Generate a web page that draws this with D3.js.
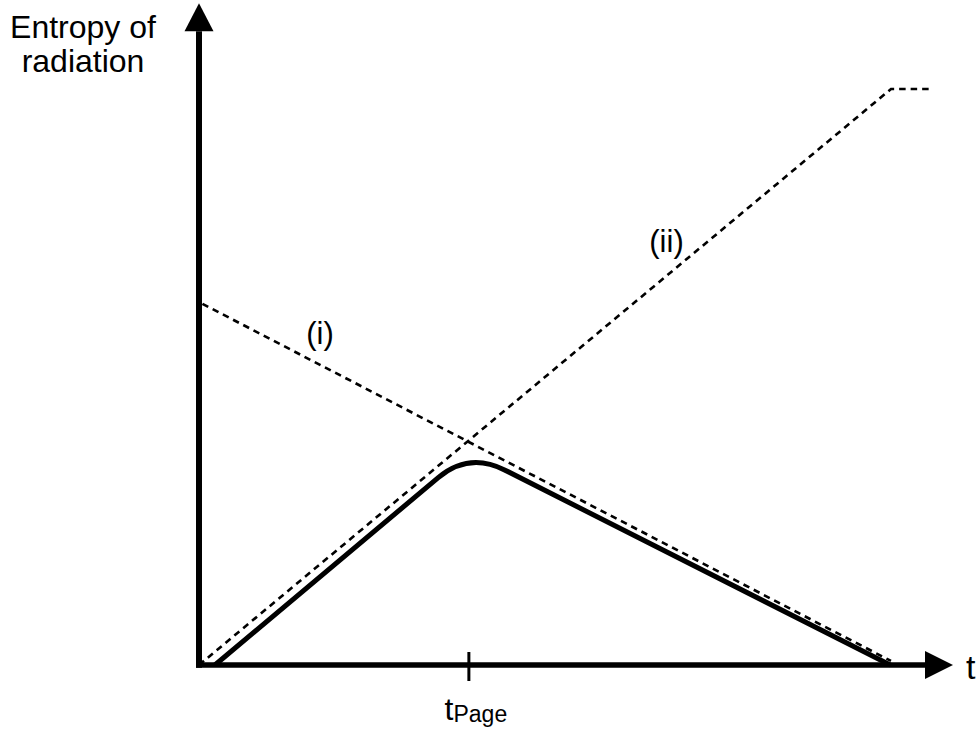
<!DOCTYPE html>
<html>
<head>
<meta charset="utf-8">
<script src="https://cdn.jsdelivr.net/npm/d3@7"></script>
<style>
  html, body { margin: 0; padding: 0; background: #fff; }
  svg text { font-family: "Liberation Sans", Arial, Helvetica, sans-serif; fill: #000; }
</style>
</head>
<body>
<svg id="chart" width="978" height="733"></svg>
<script>
// Time in units of the evaporation time, entropy in units of the final radiation entropy.
const tPage = 0.39;

// (i) coarse-grained entropy of the black hole, falling to zero at evaporation
const curveI = [ { t: 0.005, s: 0.627 }, { t: 1.0, s: 0.007 } ];
// (ii) Hawking's thermal radiation entropy, rising then flat after evaporation
const curveII = [ { t: 0, s: 0 }, { t: 1.0, s: 1.0 }, { t: 1.059, s: 1.0 } ];
// Page curve: straight rise, rounded turnover at t_Page, straight fall
const pageCurve = [ { t: 0.023, s: 0 }, { t: 0.39, s: 0.37 }, { t: 0.999, s: 0 } ];

const axisLimits = { t: 1.0896, s: 1.149 };
const labels = { y: ["Entropy of", "radiation"], x: "t", tick: "t", tickSub: "Page", i: "(i)", ii: "(ii)" };

const svg = d3.select("#chart");

const x = d3.scaleLinear().domain([0, 1]).range([199, 891]);
const y = d3.scaleLinear().domain([0, 1]).range([665, 89]);

// Axes
const arrowLen = 28, arrowHalf = 14;
const x0 = x(0), y0 = y(0);
const xTip = x(axisLimits.t), yTip = y(axisLimits.s);

svg.append("line")
  .attr("x1", x0).attr("y1", y0 + 2.8)
  .attr("x2", x0).attr("y2", yTip + arrowLen)
  .attr("stroke", "#000").attr("stroke-width", 6);
svg.append("line")
  .attr("x1", x0 - 3).attr("y1", y0)
  .attr("x2", xTip - arrowLen).attr("y2", y0)
  .attr("stroke", "#000").attr("stroke-width", 5.5);

svg.append("path")
  .attr("d", `M${x0},${yTip} L${x0 + arrowHalf + 0.5},${yTip + arrowLen} L${x0 - arrowHalf - 0.5},${yTip + arrowLen} Z`)
  .attr("fill", "#000");
svg.append("path")
  .attr("d", `M${xTip},${y0} L${xTip - arrowLen},${y0 - arrowHalf} L${xTip - arrowLen},${y0 + arrowHalf} Z`)
  .attr("fill", "#000");

// t_Page tick
svg.append("line")
  .attr("x1", x(tPage)).attr("x2", x(tPage))
  .attr("y1", y0 - 13).attr("y2", y0 + 16)
  .attr("stroke", "#000").attr("stroke-width", 3);

// Dashed reference curves
const line = d3.line().x(d => x(d.t)).y(d => y(d.s));
[curveI, curveII].forEach(c => {
  svg.append("path")
    .attr("d", line(c))
    .attr("fill", "none")
    .attr("stroke", "#000")
    .attr("stroke-width", 2.6)
    .attr("stroke-dasharray", "6.5,5");
});

// Page curve with a rounded corner at the turnover
(function drawPage() {
  const [a, c, b] = pageCurve.map(d => [x(d.t), y(d.s)]);
  const r = 40;
  const unit = (p, q) => { const dx = q[0] - p[0], dy = q[1] - p[1], L = Math.hypot(dx, dy); return [dx / L, dy / L]; };
  const u1 = unit(c, a), u2 = unit(c, b);
  const p = d3.path();
  p.moveTo(a[0], a[1]);
  p.lineTo(c[0] + u1[0] * r, c[1] + u1[1] * r);
  p.quadraticCurveTo(c[0], c[1], c[0] + u2[0] * r, c[1] + u2[1] * r);
  p.lineTo(b[0], b[1]);
  svg.append("path")
    .attr("d", p.toString())
    .attr("fill", "none")
    .attr("stroke", "#000")
    .attr("stroke-width", 5)
    .attr("stroke-linejoin", "round");
})();

// Text
svg.append("text")
  .attr("text-anchor", "middle")
  .attr("font-size", 32)
  .selectAll("tspan").data(labels.y).join("tspan")
  .attr("x", 83).attr("y", (d, i) => 38 + i * 34)
  .text(d => d);

svg.append("text")
  .attr("x", 966).attr("y", 679)
  .attr("font-size", 34)
  .text(labels.x);

const tick = svg.append("text")
  .attr("x", x(tPage) + 7).attr("y", 720)
  .attr("text-anchor", "middle");
tick.append("tspan").attr("font-size", 32).text(labels.tick);
tick.append("tspan").attr("font-size", 23).attr("dy", 2).text(labels.tickSub);

svg.append("text")
  .attr("x", 320).attr("y", 344).attr("text-anchor", "middle")
  .attr("font-size", 31).text(labels.i);
svg.append("text")
  .attr("x", 666.5).attr("y", 252).attr("text-anchor", "middle")
  .attr("font-size", 31).text(labels.ii);
</script>
</body>
</html>
